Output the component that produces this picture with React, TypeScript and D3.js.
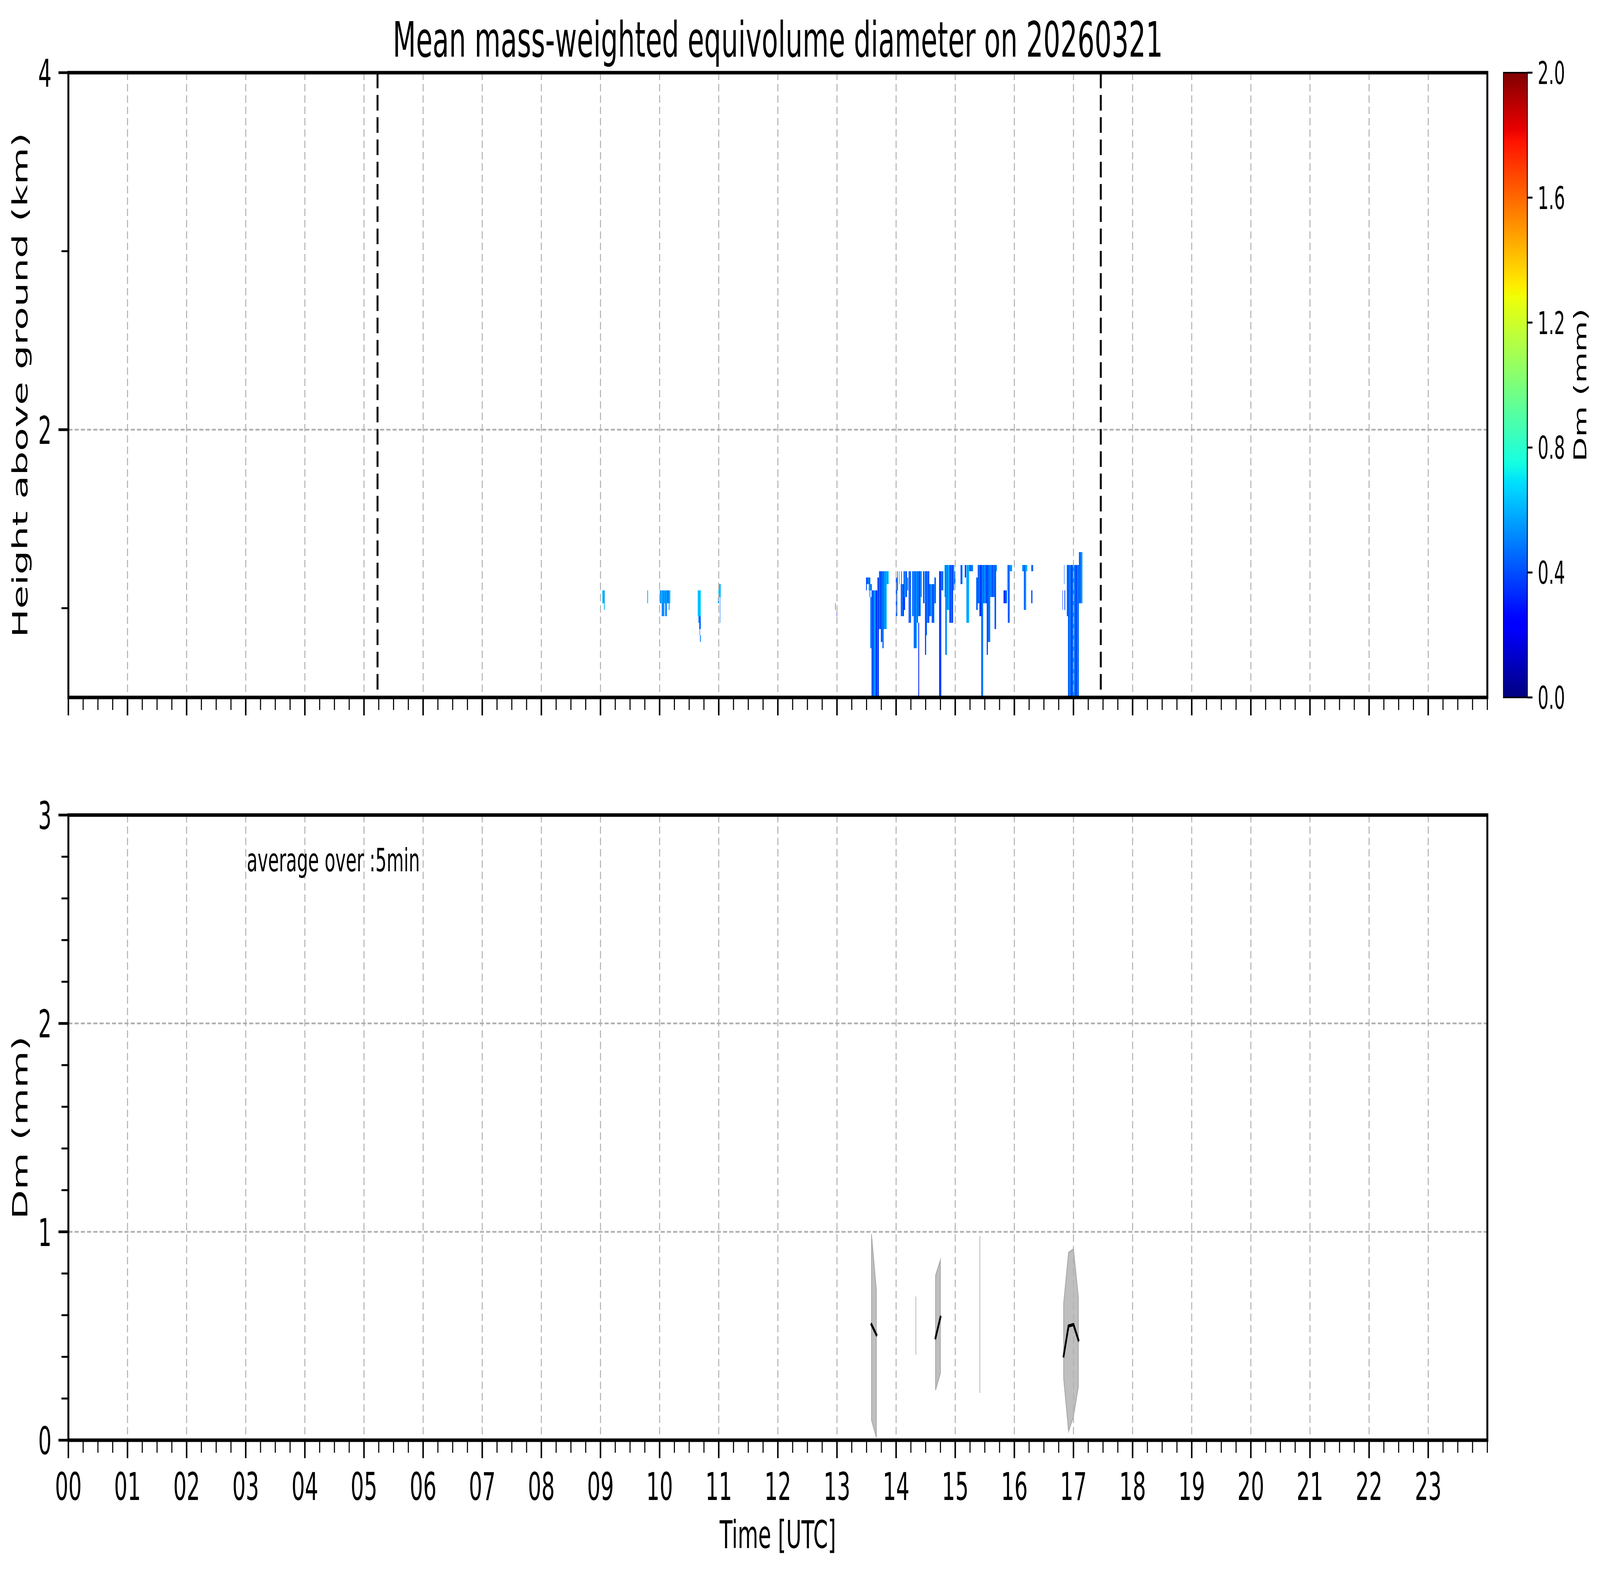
import React, { useEffect, useState } from "react";
import * as d3 from "d3";

// ---- data ----

// radar cells: [start minute of day, end minute, top gate, bottom gate, Dm values (mm) across the span]
const cellsMorning: [number, number, number, number, number[]][] = [
  [541.8, 544.2, 16, 15, [0.62, 0.55]],
  [543.3, 544.2, 14, 14, [0.62]],
  [587.6, 588.2, 16, 15, [0.62]],
  [600.3, 603.0, 16, 15, [0.55, 0.62]],
  [603.0, 606.0, 16, 15, [0.5, 0.6, 0.52]],
  [606.0, 610.8, 16, 15, [0.55, 0.48, 0.6]],
  [602.1, 604.8, 14, 13, [0.5, 0.55]],
  [605.6, 607.2, 14, 13, [0.48]],
  [609.4, 610.0, 14, 14, [0.55]],
  [638.5, 641.6, 16, 13, [0.68, 0.6, 0.65]],
  [639.3, 640.0, 12, 12, [0.5]],
  [640.2, 641.6, 12, 11, [0.45]],
  [640.6, 641.0, 10, 10, [0.4]],
  [641.0, 641.6, 9, 9, [0.5]],
  [659.5, 662.0, 17, 16, [0.65, 0.6]],
  [659.3, 660.3, 15, 15, [0.55]],
  [661.2, 661.8, 15, 12, [0.45]],
  [778.0, 778.4, 14, 14, [0.38]],
  [779.6, 780.0, 13, 13, [0.15]],
];

const cellsEarlyAfternoon: [number, number, number, number, number[]][] = [
  [809.5, 813.9, 18, 18, [0.4, 0.5, 0.45]],
  [809.5, 810.3, 17, 17, [0.4]],
  [812.3, 815.4, 17, 17, [0.55, 0.48]],
  [813.1, 813.9, 16, 16, [0.5]],
  [813.9, 815.1, 15, 8, [0.45, 0.55]],
  [815.1, 817.0, 16, 0, [0.42, 0.5, 0.35]],
  [817.0, 819.0, 16, 0, [0.55, 0.45, 0.6]],
  [819.0, 821.1, 16, 0, [0.4, 0.3, 0.5]],
  [821.1, 822.5, 18, 0, [0.45, 0.35]],
  [822.5, 824.4, 19, 11, [0.5, 0.42]],
  [824.4, 826.0, 19, 9, [0.38, 0.5]],
  [826.0, 827.5, 19, 8, [0.45, 0.4]],
  [827.5, 828.3, 19, 11, [0.55]],
  [828.3, 830.6, 19, 11, [0.5, 0.6]],
  [830.6, 832.6, 19, 18, [0.55, 0.62]],
  [839.4, 841.2, 18, 13, [0.5, 0.42]],
  [841.2, 842.0, 19, 17, [0.55]],
  [843.0, 843.4, 19, 18, [0.45]],
  [844.7, 847.8, 17, 13, [0.4, 0.5, 0.35]],
  [845.3, 846.0, 19, 18, [0.5]],
  [847.4, 850.9, 19, 16, [0.45, 0.55, 0.4]],
  [847.8, 849.0, 15, 14, [0.35]],
  [850.5, 852.1, 18, 17, [0.55]],
  [852.5, 855.2, 19, 12, [0.42, 0.5, 0.38]],
  [856.2, 857.9, 19, 13, [0.45, 0.52]],
  [857.9, 861.0, 19, 8, [0.5, 0.4, 0.55]],
  [861.0, 862.2, 19, 12, [0.45]],
  [862.2, 864.9, 19, 13, [0.5, 0.38, 0.48]],
  [862.6, 863.2, 11, 0, [0.3]],
  [864.9, 866.1, 19, 16, [0.55]],
  [867.3, 868.8, 19, 15, [0.4, 0.5]],
  [869.2, 870.4, 19, 7, [0.3, 0.45]],
  [870.4, 871.2, 19, 10, [0.42]],
  [871.2, 873.5, 19, 12, [0.5, 0.4]],
  [873.5, 876.0, 17, 13, [0.45, 0.55]],
  [876.0, 879.0, 17, 12, [0.5, 0.38, 0.52]],
  [879.0, 880.5, 18, 15, [0.45]],
  [883.6, 886.0, 19, 0, [0.4, 0.3, 0.5]],
  [886.0, 887.9, 19, 17, [0.45]],
  [889.1, 889.9, 20, 16, [0.55]],
  [889.9, 891.4, 20, 7, [0.45, 0.55]],
  [891.4, 893.8, 20, 14, [0.5, 0.6]],
  [893.8, 897.7, 20, 12, [0.45, 0.4, 0.5, 0.38]],
  [897.7, 899.2, 20, 17, [0.55]],
  [899.2, 900.4, 19, 18, [0.45]],
];

const cellsLateAfternoon: [number, number, number, number, number[]][] = [
  [905.5, 907.4, 20, 18, [0.4, 0.5]],
  [909.8, 910.8, 20, 19, [0.3]],
  [911.3, 914.0, 20, 12, [0.55, 0.6]],
  [914.0, 917.9, 20, 20, [0.45, 0.5]],
  [921.2, 922.7, 18, 14, [0.45]],
  [922.7, 924.3, 20, 15, [0.4, 0.5]],
  [924.3, 926.3, 20, 13, [0.45, 0.35]],
  [926.3, 928.2, 20, 0, [0.42, 0.5]],
  [928.2, 931.9, 20, 15, [0.45, 0.55, 0.4]],
  [931.9, 933.3, 20, 7, [0.4]],
  [933.3, 935.6, 20, 9, [0.45, 0.5]],
  [935.6, 939.9, 20, 16, [0.5, 0.4, 0.48]],
  [939.9, 941.6, 20, 11, [0.42]],
  [941.6, 942.2, 20, 20, [0.55]],
  [949.2, 952.4, 16, 15, [0.35, 0.45]],
  [952.4, 953.1, 20, 17, [0.5]],
  [953.5, 955.5, 20, 12, [0.42, 0.5]],
  [955.5, 957.7, 20, 20, [0.55]],
  [968.0, 969.5, 20, 20, [0.5]],
  [969.5, 971.8, 20, 14, [0.45, 0.55]],
  [971.8, 973.0, 20, 20, [0.62]],
  [977.3, 979.0, 20, 20, [0.45]],
  [977.3, 978.5, 16, 15, [0.4]],
  [1008.9, 1009.4, 16, 14, [0.3]],
  [1011.0, 1011.5, 16, 14, [0.4]],
  [1010.3, 1011.0, 20, 18, [0.45]],
  [1013.2, 1014.3, 20, 13, [0.45]],
  [1014.3, 1016.5, 20, 0, [0.4, 0.5]],
  [1016.5, 1018.5, 20, 0, [0.48, 0.35]],
  [1018.5, 1020.5, 20, 0, [0.42, 0.55]],
  [1020.5, 1022.5, 20, 0, [0.5, 0.4]],
  [1022.5, 1025.6, 20, 0, [0.38, 0.5, 0.45]],
  [1025.6, 1029.1, 22, 15, [0.45, 0.55]],
];

// radar gate geometry (km)
const gateLowestKm = 0.487;
const gateSpacingKm = 0.036;

// precipitation period markers (hours UTC)
const periodMarks = [5.229, 17.462];

// 5-minute averages of Dm
const avgTimes = ["13:35", "13:40", "14:20", "14:40", "14:45", "15:25", "16:50", "16:55", "17:00", "17:05"];
const avgMean = [0.555, 0.506, 0.55, 0.491, 0.59, 0.6, 0.404, 0.548, 0.555, 0.481];
const avgUpper = [0.99, 0.72, 0.69, 0.79, 0.866, 0.98, 0.657, 0.9, 0.918, 0.686];
const avgLower = [0.097, 0.012, 0.41, 0.24, 0.322, 0.227, 0.297, 0.042, 0.113, 0.257];

const hourLabels = d3.range(0, 24);
const topYTicks = [2, 4];
const topYMinor = [1, 3];
const botYTicks = [0, 1, 2, 3];
const cbarTicks = [0, 0.4, 0.8, 1.2, 1.6, 2.0];

// ---- layout ----
const W = 7442;
const H = 4031;
const L = 318;
const R = 6918;
const TOP = { t: 186, b: 1785 };
const BOT = { t: 2086, b: 3686 };
const CB = { x0: 6993, x1: 7104 };
const FONT = "DejaVu Sans, sans-serif";
const GRID = "#b0b0b0";

// matplotlib "jet"
const jetR = d3.scaleLinear().domain([0, 0.35, 0.66, 0.89, 1]).range([0, 0, 1, 1, 0.5]).clamp(true);
const jetG = d3.scaleLinear().domain([0, 0.125, 0.375, 0.64, 0.91, 1]).range([0, 0, 1, 1, 0, 0]).clamp(true);
const jetB = d3.scaleLinear().domain([0, 0.11, 0.34, 0.65, 1]).range([0.5, 1, 1, 0, 0]).clamp(true);
const jet = (t: number) => d3.rgb(jetR(t) * 255, jetG(t) * 255, jetB(t) * 255).formatHex();

const toMin = (s: string) => {
  const [h, m] = s.split(":").map(Number);
  return h * 60 + m;
};

const viewport = () => ({
  w: window.innerWidth || W,
  h: window.innerHeight || H,
});

export default function App() {
  const [vp, setVp] = useState(viewport());
  useEffect(() => {
    document.body.style.margin = "0";
    document.body.style.overflow = "hidden";
    const onResize = () => setVp(viewport());
    window.addEventListener("resize", onResize);
    return () => window.removeEventListener("resize", onResize);
  }, []);

  const x = d3.scaleLinear().domain([0, 24]).range([L, R]);
  const yTop = d3.scaleLinear().domain([0.5, 4]).range([TOP.b, TOP.t]);
  const yBot = d3.scaleLinear().domain([0, 3]).range([BOT.b, BOT.t]);
  const yCb = d3.scaleLinear().domain([0, 2]).range([TOP.b, TOP.t]);
  const color = (v: number) => jet(v / 2);

  const xMinor = d3.range(0, 97).map((i) => i / 4).filter((h) => h % 1 !== 0 || h === 24);
  const botYMinor = d3.range(0, 16).map((i) => i / 5).filter((v) => v % 1 !== 0);

  const cells = [...cellsMorning, ...cellsEarlyAfternoon, ...cellsLateAfternoon];
  const rects: JSX.Element[] = [];
  cells.forEach(([t0, t1, top, bot, dms], i) => {
    const step = (t1 - t0) / dms.length;
    dms.forEach((v, j) => {
      const xa = x((t0 + j * step) / 60);
      const xb = x((t0 + (j + 1) * step) / 60);
      const ya = yTop(gateLowestKm + (top + 1) * gateSpacingKm);
      const yb = yTop(gateLowestKm + bot * gateSpacingKm);
      rects.push(
        <rect key={`c${i}-${j}`} x={xa} y={ya} width={Math.max(xb - xa, 1)} height={yb - ya} fill={color(v)} />
      );
    });
  });

  // split 5-minute averages into continuous runs
  const tMin = avgTimes.map(toMin);
  const runs: number[][] = [];
  tMin.forEach((t, i) => {
    if (i > 0 && t - tMin[i - 1] === 5) runs[runs.length - 1].push(i);
    else runs.push([i]);
  });
  const area = d3
    .area<number>()
    .x((i) => x(tMin[i] / 60))
    .y0((i) => yBot(avgLower[i]))
    .y1((i) => yBot(avgUpper[i]));
  const line = d3
    .line<number>()
    .x((i) => x(tMin[i] / 60))
    .y((i) => yBot(avgMean[i]));

  const xAxis = (y0: number, labels: boolean) => (
    <g>
      {xMinor.map((h) => (
        <line key={`mn${h}`} x1={x(h)} x2={x(h)} y1={y0} y2={y0 + 32} stroke="#000" strokeWidth={5} />
      ))}
      {hourLabels.map((h) => (
        <g key={`mj${h}`}>
          <line x1={x(h)} x2={x(h)} y1={y0} y2={y0 + 46} stroke="#000" strokeWidth={7} />
          {labels && (
            <text x={x(h)} y={3839} textAnchor="middle" fontSize={98} fontFamily={FONT}>
              {d3.format("02d")(h)}
            </text>
          )}
        </g>
      ))}
    </g>
  );

  const vGrid = (y0: number, y1: number) =>
    hourLabels
      .filter((h) => h > 0)
      .map((h) => (
        <line key={`vg${h}`} x1={x(h)} x2={x(h)} y1={y0} y2={y1} stroke={GRID} strokeWidth={4.5} strokeDasharray="19,10" />
      ));

  const gradStops = d3.range(0, 101).map((i) => i / 100);

  return (
    <svg
      width={vp.w}
      height={vp.h}
      viewBox={`0 0 ${W} ${H}`}
      preserveAspectRatio="none"
      style={{ position: "absolute", left: 0, top: 0, background: "#fff", display: "block" }}
    >
      <defs>
        <clipPath id="clipTop">
          <rect x={L} y={TOP.t} width={R - L} height={TOP.b - TOP.t} />
        </clipPath>
        <clipPath id="clipBot">
          <rect x={L} y={BOT.t} width={R - L} height={BOT.b - BOT.t} />
        </clipPath>
        <linearGradient id="jetGrad" x1="0" y1="1" x2="0" y2="0">
          {gradStops.map((t) => (
            <stop key={t} offset={t} stopColor={jet(t)} />
          ))}
        </linearGradient>
      </defs>
      <rect x={0} y={0} width={W} height={H} fill="#fff" />

      {/* title */}
      <text x={(L + R) / 2} y={145} textAnchor="middle" fontSize={125} fontFamily={FONT}>
        Mean mass-weighted equivolume diameter on 20260321
      </text>

      {/* ---- top panel ---- */}
      <g clipPath="url(#clipTop)" shapeRendering="crispEdges">
        {rects}
      </g>
      {vGrid(TOP.t, TOP.b)}
      <line x1={L} x2={R} y1={yTop(2)} y2={yTop(2)} stroke={GRID} strokeWidth={4.5} strokeDasharray="19,10" />
      {periodMarks.map((h) => (
        <line key={`pm${h}`} x1={x(h)} x2={x(h)} y1={TOP.t} y2={TOP.b} stroke="#000" strokeWidth={9} strokeDasharray="40,17" />
      ))}
      <rect x={L} y={TOP.t} width={R - L} height={TOP.b - TOP.t} fill="none" stroke="#000" strokeWidth={9} />
      {xAxis(TOP.b, false)}
      {topYMinor.map((v) => (
        <line key={`tym${v}`} x1={L - 32} x2={L} y1={yTop(v)} y2={yTop(v)} stroke="#000" strokeWidth={5} />
      ))}
      {topYTicks.map((v) => (
        <g key={`ty${v}`}>
          <line x1={L - 46} x2={L} y1={yTop(v)} y2={yTop(v)} stroke="#000" strokeWidth={7} />
          <text x={240} y={yTop(v) + 36} textAnchor="end" fontSize={98} fontFamily={FONT}>
            {v}
          </text>
        </g>
      ))}
      <text
        transform={`translate(128,${(TOP.t + TOP.b) / 2}) rotate(-90)`}
        textAnchor="middle"
        fontSize={98}
        fontFamily={FONT}
      >
        Height above ground (km)
      </text>

      {/* colorbar */}
      <rect x={CB.x0} y={TOP.t} width={CB.x1 - CB.x0} height={TOP.b - TOP.t} fill="url(#jetGrad)" stroke="#000" strokeWidth={4} />
      {cbarTicks.map((v) => (
        <g key={`cb${v}`}>
          <line x1={CB.x1} x2={CB.x1 + 24} y1={yCb(v)} y2={yCb(v)} stroke="#000" strokeWidth={5} />
          <text x={7152} y={yCb(v) + 29} fontSize={80} fontFamily={FONT}>
            {d3.format(".1f")(v)}
          </text>
        </g>
      ))}
      <text
        transform={`translate(7378,${(TOP.t + TOP.b) / 2}) rotate(-90)`}
        textAnchor="middle"
        fontSize={82}
        fontFamily={FONT}
      >
        Dm (mm)
      </text>

      {/* ---- bottom panel ---- */}
      <g clipPath="url(#clipBot)">
        {runs.map((r, k) => (
          <path key={`ar${k}`} d={area(r) ?? ""} fill="rgba(128,128,128,0.5)" stroke="rgba(128,128,128,0.5)" strokeWidth={4} />
        ))}
      </g>
      {vGrid(BOT.t, BOT.b)}
      {[1, 2].map((v) => (
        <line key={`hg${v}`} x1={L} x2={R} y1={yBot(v)} y2={yBot(v)} stroke={GRID} strokeWidth={4.5} strokeDasharray="19,10" />
      ))}
      <g clipPath="url(#clipBot)">
        {runs
          .filter((r) => r.length > 1)
          .map((r, k) => (
            <path key={`ln${k}`} d={line(r) ?? ""} fill="none" stroke="#000" strokeWidth={8} strokeLinecap="square" />
          ))}
      </g>
      <text x={1148} y={2230} fontSize={82} fontFamily={FONT}>
        average over :5min
      </text>
      <rect x={L} y={BOT.t} width={R - L} height={BOT.b - BOT.t} fill="none" stroke="#000" strokeWidth={9} />
      {xAxis(BOT.b, true)}
      {botYMinor.map((v) => (
        <line key={`bym${v}`} x1={L - 32} x2={L} y1={yBot(v)} y2={yBot(v)} stroke="#000" strokeWidth={5} />
      ))}
      {botYTicks.map((v) => (
        <g key={`by${v}`}>
          <line x1={L - 46} x2={L} y1={yBot(v)} y2={yBot(v)} stroke="#000" strokeWidth={7} />
          <text x={240} y={yBot(v) + 36} textAnchor="end" fontSize={98} fontFamily={FONT}>
            {v}
          </text>
        </g>
      ))}
      <text
        transform={`translate(128,${(BOT.t + BOT.b) / 2}) rotate(-90)`}
        textAnchor="middle"
        fontSize={98}
        fontFamily={FONT}
      >
        Dm (mm)
      </text>
      <text x={(L + R) / 2} y={3962} textAnchor="middle" fontSize={98} fontFamily={FONT}>
        Time [UTC]
      </text>
    </svg>
  );
}
